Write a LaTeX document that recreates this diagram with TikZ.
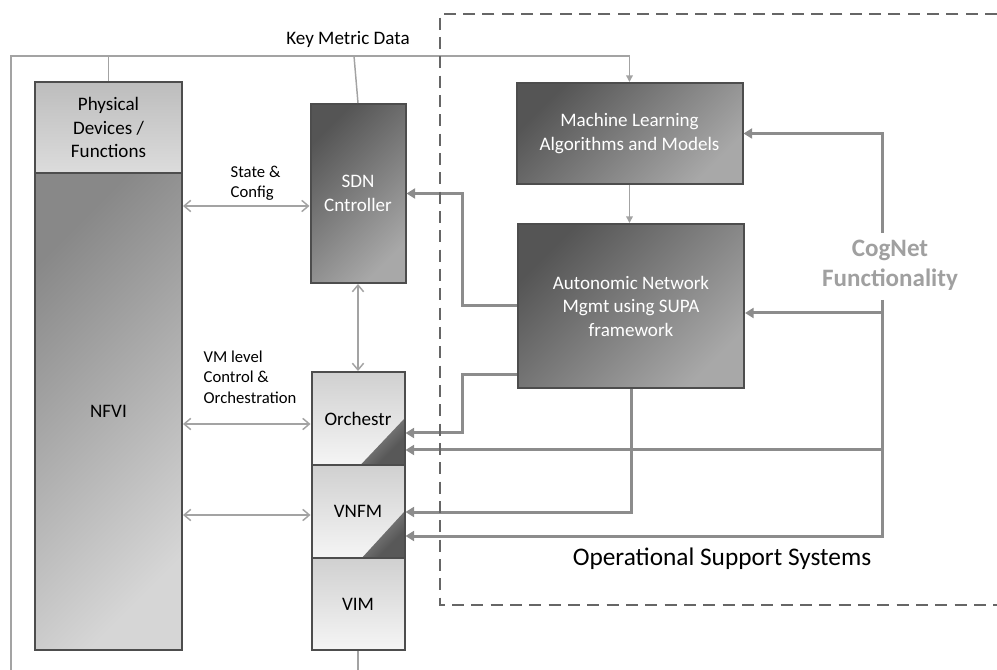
\documentclass[tikz,border=0pt]{standalone}
\usepackage{fontspec}
\setmainfont{Carlito}
\usetikzlibrary{arrows.meta}
\definecolor{thinline}{HTML}{A3A3A3}
\definecolor{thickline}{HTML}{8C8C8C}
\definecolor{dashcol}{HTML}{666666}
\definecolor{boxedge}{HTML}{4D4D4D}
\definecolor{darkA}{HTML}{555555}
\definecolor{darkB}{HTML}{A8A8A8}
\definecolor{nfviA}{HTML}{888888}
\definecolor{nfviB}{HTML}{D6D6D6}
\definecolor{physA}{HTML}{BDBDBD}
\definecolor{physB}{HTML}{DCDCDC}
\definecolor{stackA}{HTML}{D0D0D0}
\definecolor{stackB}{HTML}{F5F5F5}
\definecolor{triA}{HTML}{FFFFFF}
\definecolor{triB}{HTML}{585858}
\definecolor{cogcol}{HTML}{A0A0A0}
\begin{document}
\begin{tikzpicture}[x=0.75pt,y=-0.75pt,
  mainfont/.style={font=\fontsize{14.3}{17.6}\selectfont},
  smallfont/.style={font=\fontsize{12.5}{15.3}\selectfont},
  boxbase/.style={draw=boxedge, line width=1.5pt, align=center, inner sep=0pt, mainfont},
  darkbox/.style={boxbase, top color=darkA, bottom color=darkB, shading angle=45, text=white},
  nfvibox/.style={boxbase, top color=nfviA, bottom color=nfviB, shading angle=45},
  physbox/.style={boxbase, top color=physA, bottom color=physB},
  stackbox/.style={boxbase, top color=stackA, bottom color=stackB},
  corner/.style={path picture={
     \shade[top color=triA, bottom color=triB, shading angle=45]
       (path picture bounding box.east) -- (path picture bounding box.south east)
       -- ([xshift=-#1]path picture bounding box.south east) -- cycle;}},
  thinconn/.style={draw=thinline, line width=1.1pt},
  thintip/.style={thinconn, -{Triangle[length=5pt,width=5pt]}},
  duo/.style={thinconn, {Straight Barb[length=5pt,width=8.5pt]}-{Straight Barb[length=5pt,width=8.5pt]}},
  bigarrow/.style={draw=thickline, line width=2.25pt, -{Triangle[length=6.5pt,width=7.5pt]}},
  bigline/.style={draw=thickline, line width=2.25pt},
  dashbox/.style={draw=dashcol, line width=2.2pt, dash pattern=on 9pt off 5.5pt}
]
\useasboundingbox (0,0) rectangle (997,670);

% left block
\node[physbox, minimum width=110.25pt, minimum height=68.25pt] (phys) at (108.5,127.5) {Physical\\Devices /\\Functions};
\node[nfvibox, minimum width=110.25pt, minimum height=357.75pt] (nfvi) at (108.5,411.5) {NFVI};

% SDN and stack
\node[darkbox, minimum width=71.25pt, minimum height=134.25pt] (sdn) at (358,193.5) {SDN\\Cntroller};
\node[stackbox, corner=33pt, minimum width=69.75pt, minimum height=69.75pt] (orch) at (358,418.5) {Orchestr};
\node[stackbox, corner=32pt, minimum width=69.75pt, minimum height=69.75pt] (vnfm) at (358,511.5) {VNFM};
\node[stackbox, minimum width=69.75pt, minimum height=69pt] (vim) at (358,604) {VIM};

% OSS boxes
\node[darkbox, minimum width=169.5pt, minimum height=75.75pt] (ml) at (629.5,133.5) {Machine Learning\\Algorithms and Models};
\node[darkbox, minimum width=169.5pt, minimum height=123pt] (anm) at (631,306) {Autonomic Network\\Mgmt using SUPA\\framework};

% labels
\node[mainfont] (kmd) at (348,39) {Key Metric Data};
\node[smallfont, align=left, anchor=west] (stc) at (226,183) {State \&\\Config};
\node[smallfont, align=left, anchor=west] (vml) at (199,377) {VM level\\Control \&\\Orchestration};
\node[font=\fontsize{19}{23}\selectfont] (oss) at (722,559) {Operational Support Systems};
\node[font=\fontsize{18.8}{22.5}\selectfont\bfseries, text=cogcol, align=center] (cog) at (890,265) {CogNet\\Functionality};

% key metric data lines
\coordinate (kbl) at (11,670);
\coordinate (ktl) at (11,56);
\coordinate (ktr) at (629.5,56);
\coordinate (kp) at (108.5,56);
\coordinate (ks) at (354,56);
\coordinate (vimend) at (358,670);
\draw[thintip] (kbl) -- (ktl) -- (ktr) -- (ml.north);
\draw[thinconn] (kp) -- (phys.north);
\draw[thinconn] (ks) -- (sdn.north);
\draw[thinconn] (vim.south) -- (vimend);
\draw[thintip] (ml.south) -- (ml.south |- anm.north);

% double arrows
\draw[duo] (nfvi.east |- 0,206) -- (sdn.west |- 0,206);
\draw[duo] (nfvi.east |- 0,424) -- (orch.west |- 0,424);
\draw[duo] (nfvi.east |- 0,515) -- (vnfm.west |- 0,515);
\draw[duo] (sdn.south) -- (orch.north);

% thick connectors from ANM
\coordinate (j1) at (462,250);
\coordinate (j2) at (462,400);
\draw[bigarrow] (anm.west) -| (j1) |- (sdn.east);
\draw[bigarrow] (anm.west |- 0,375) -| (j2) |- (orch.east |- 0,433);
\draw[bigarrow] (anm.south) |- (vnfm.east |- 0,512);

% CogNet connectors
\coordinate (cg1) at (882,233);
\coordinate (cg2) at (882,300);
\coordinate (cg3) at (882,536);
\draw[bigarrow] (cg1) |- (ml.east);
\draw[bigarrow] (cg2) -- (cg3) -- (vnfm.east |- cg3);
\draw[bigarrow] (cg2 |- 0,313) -- (anm.east |- 0,313);
\draw[bigarrow] (cg2 |- 0,450) -- (orch.east |- 0,450);

% OSS dashed frame
\coordinate (d1) at (997,14);
\coordinate (d2) at (440,14);
\coordinate (d3) at (440,605);
\coordinate (d4) at (997,605);
\draw[dashbox] (d1) -- (d2) -- (d3) -- (d4);
\end{tikzpicture}
\end{document}
